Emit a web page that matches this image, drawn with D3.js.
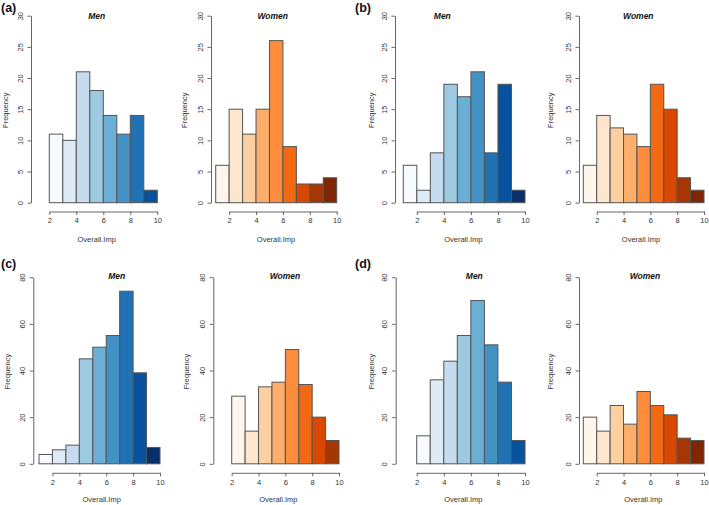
<!DOCTYPE html>
<html>
<head>
<meta charset="utf-8">
<script src="https://cdn.jsdelivr.net/npm/d3@7"></script>
<style>
  body { margin: 0; background: #fff; }
  svg { display: block; font-family: "Liberation Sans", Arial, sans-serif; }
</style>
</head>
<body>
<svg id="chart" width="709" height="505"></svg>
<script>
// ---------- data ----------
const panelLetters = ["(a)", "(b)", "(c)", "(d)"];
const groupNames = ["Men", "Women"];
const xTickValues = [2, 4, 6, 8, 10];
const yTicksTop = [0, 5, 10, 15, 20, 25, 30];
const yTicksBottom = [0, 20, 40, 60, 80];
const xTitle = "Overall.Imp";
const yTitle = "Frequency";

// frequencies per unit bin, first bin start noted separately
const aMen   = [11, 10, 21, 18, 14, 11, 14, 2];
const aWomen = [6, 15, 11, 15, 26, 9, 3, 3, 4];
const bMen   = [6, 2, 8, 19, 17, 21, 8, 19, 2];
const bWomen = [6, 14, 12, 11, 9, 19, 15, 4, 2];
const cMen   = [4, 6, 8, 45, 50, 55, 74, 39, 7];
const cWomen = [29, 14, 33, 35, 49, 34, 20, 10];
const dMen   = [12, 36, 44, 55, 70, 51, 35, 10];
const dWomen = [20, 14, 25, 17, 31, 25, 21, 11, 10];
const binStarts = [2, 1, 1, 1, 1, 2, 2, 1];

const blues = ["#f7fbff","#deebf7","#c6dbef","#9ecae1","#6baed6","#4292c6","#2171b5","#08519c","#08306b"];
const oranges = ["#fff5eb","#fee6ce","#fdd0a2","#fdae6b","#fd8d3c","#f16913","#d94801","#a63603","#7f2704"];

// ---------- layout (pixels) ----------
const seriesList = [aMen, aWomen, bMen, bWomen, cMen, cWomen, dMen, dWomen];
const axisXs   = [31, 211, 395, 579, 33.3, 213.3, 395.7, 579];
const barLefts = [49.3, 215.7, 403.3, 583.3, 39, 231.7, 416.7, 583.3];
const barRights= [157.3, 336.7, 525, 704, 160, 339, 525, 704];
const freqXs   = [5, 184, 371, 550.7, 7, 186, 371, 550.7];
const titleXs  = [96.7, 272.7, 442.3, 638.3, 116.7, 285, 474.3, 645];
const xlabXs   = [96.7, 276, 463.3, 641, 101.7, 278.3, 463.3, 643.3];
const rowGeom = [
  { y0: 202.7, yTop: 15.7, max: 30, ticks: yTicksTop, axisY: 211.5, titleY: 19, xlabY: 241.5 },
  { y0: 463.8, yTop: 277.2, max: 80, ticks: yTicksBottom, axisY: 472.8, titleY: 278.5, xlabY: 501.5 }
];
const letterPos = [[1, 12], [355, 12], [1, 268], [355, 268]];

const svg = d3.select("#chart");
svg.append("rect").attr("width", 709).attr("height", 505).attr("fill", "#fff");

const axisColor = "#666";
const textColor = "#333";

seriesList.forEach((vals, i) => {
  const row = Math.floor(i / 4);
  const g = rowGeom[row];
  const isMen = i % 2 === 0;
  const palette = isMen ? blues : oranges;
  const start = binStarts[i];
  const x = d3.scaleLinear().domain([start, 10]).range([barLefts[i], barRights[i]]);
  const y = d3.scaleLinear().domain([0, g.max]).range([g.y0, g.yTop]);
  const p = svg.append("g");

  // bars
  p.selectAll("rect.bar").data(vals).join("rect")
    .attr("class", "bar")
    .attr("x", (d, k) => x(start + k))
    .attr("width", (d, k) => x(start + k + 1) - x(start + k))
    .attr("y", d => y(d))
    .attr("height", d => y(0) - y(d))
    .attr("fill", (d, k) => palette[k])
    .attr("stroke", "#555")
    .attr("stroke-width", 1);

  // y axis
  const yAx = p.append("g").attr("transform", `translate(${axisXs[i]},0)`)
    .call(d3.axisLeft(y).tickValues(g.ticks).tickSize(3.5).tickSizeOuter(0));
  yAx.select(".domain").attr("stroke", axisColor);
  yAx.selectAll(".tick line").attr("stroke", axisColor);
  yAx.selectAll(".tick text")
    .attr("transform", "rotate(-90)")
    .attr("x", 0).attr("y", -8.5).attr("dy", 0)
    .attr("text-anchor", "middle")
    .attr("fill", textColor)
    .style("font-size", "7.5px");

  // x axis
  const xa = d3.scaleLinear().domain([2, 10]).range([x(2), x(10)]);
  const xAx = p.append("g").attr("transform", `translate(0,${g.axisY})`)
    .call(d3.axisBottom(xa).tickValues(xTickValues).tickSize(3.5).tickSizeOuter(0).tickPadding(3));
  xAx.select(".domain").attr("stroke", axisColor);
  xAx.selectAll(".tick line").attr("stroke", axisColor);
  xAx.selectAll(".tick text").attr("fill", textColor).style("font-size", "7.5px");

  // titles
  p.append("text").attr("x", titleXs[i]).attr("y", g.titleY)
    .attr("text-anchor", "middle").attr("font-weight", "bold").attr("font-style", "italic")
    .attr("font-size", 8.5).attr("fill", "#111")
    .text(groupNames[i % 2]);
  p.append("text").attr("x", xlabXs[i]).attr("y", g.xlabY)
    .attr("text-anchor", "middle").attr("font-size", 7.5).attr("fill", textColor)
    .text(xTitle);
  const fy = (g.y0 + g.yTop) / 2 + 1;
  p.append("text").attr("transform", `translate(${freqXs[i] + 2.5},${fy}) rotate(-90)`)
    .attr("text-anchor", "middle").attr("font-size", 7.5).attr("fill", textColor)
    .text(yTitle);
});

panelLetters.forEach((t, k) => {
  svg.append("text").attr("x", letterPos[k][0]).attr("y", letterPos[k][1])
    .attr("font-weight", "bold").attr("font-size", 12.5).attr("fill", "#111")
    .text(t);
});
</script>
</body>
</html>
